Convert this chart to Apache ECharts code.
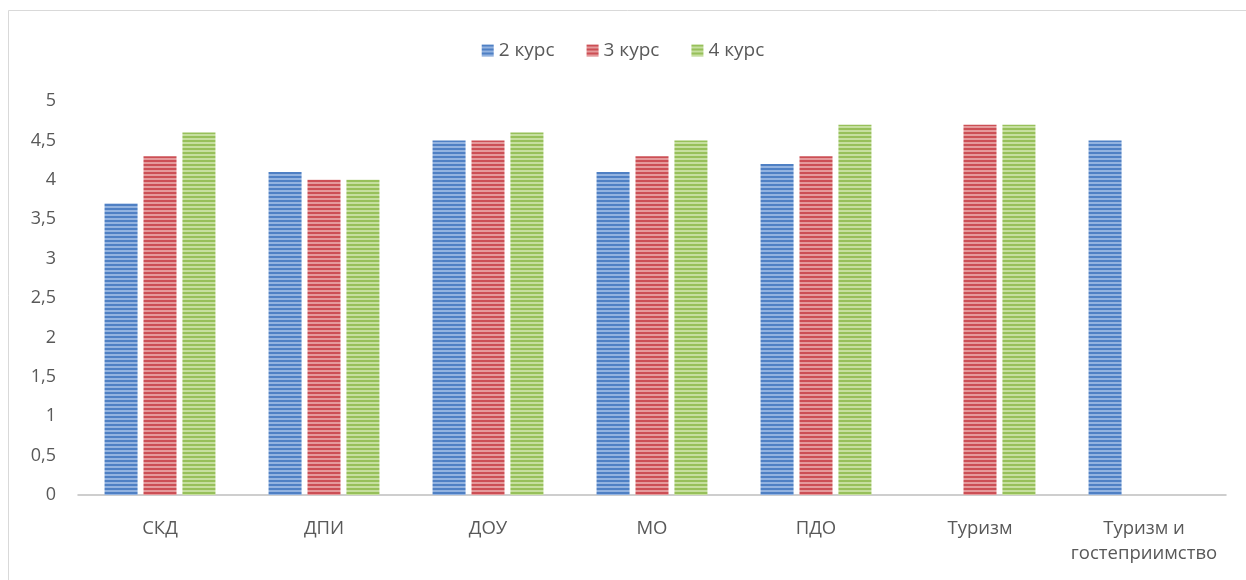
<!DOCTYPE html>
<html><head><meta charset="utf-8">
<script src="https://cdn.jsdelivr.net/npm/echarts@6/dist/echarts.min.js"></script>
<style>html,body{margin:0;padding:0;background:#fff}#c{width:1246px;height:580px}</style>
</head><body><div id="c"></div>
<script>
const categories = ['СКД','ДПИ','ДОУ','МО','ПДО','Туризм','Туризм и\nгостеприимство'];
const seriesNames = ['2 курс','3 курс','4 курс'];
const course2 = [3.7, 4.1, 4.5, 4.1, 4.2, null, 4.5];
const course3 = [4.3, 4.0, 4.5, 4.3, 4.3, 4.7, null];
const course4 = [4.6, 4.0, 4.6, 4.5, 4.7, 4.7, null];
const yTicks = [0,0.5,1,1.5,2,2.5,3,3.5,4,4.5,5];

function stripe(base, light){
  const c = document.createElement('canvas');
  c.width = 4; c.height = 4;
  const g = c.getContext('2d');
  g.fillStyle = base; g.fillRect(0,0,4,4);
  g.fillStyle = light; g.fillRect(0,2,4,2);
  return {image: c, repeat: 'repeat'};
}
const colors = [
  stripe('#4f80c4', '#93b3e0'),
  stripe('#cc4f55', '#e59a9c'),
  stripe('#97c05a', '#c6df9f')
];
const data = [course2, course3, course4];
const FF = '"Open Sans", sans-serif';
const chart = echarts.init(document.getElementById('c'), null, {renderer:'canvas'});
chart.setOption({
  animation: false,
  backgroundColor: '#fff',
  graphic: [{type:'rect', shape:{x:8.5,y:10.5,width:1260,height:600}, style:{fill:'none', stroke:'#d9d9d9', lineWidth:1}, silent:true}],
  legend: {
    top: 36, left: 'center', icon: 'rect', itemWidth: 12, itemHeight: 12, itemGap: 32,
    textStyle: {color:'#595959', fontSize:19, fontFamily:FF},
    data: seriesNames
  },
  grid: {left: 78, right: 20, top: 101, bottom: 85, containLabel: false},
  xAxis: {
    type: 'category', data: categories,
    axisLine: {lineStyle:{color:'#bfbfbf', width:1.5}},
    axisTick: {show:false},
    axisLabel: {color:'#595959', fontSize:18.5, margin:21, lineHeight:25, interval:0, fontFamily:FF}
  },
  yAxis: {
    type: 'value', min: 0, max: 5, interval: 0.5,
    axisLine: {show:false}, axisTick: {show:false},
    splitLine: {show:false},
    axisLabel: {color:'#595959', fontSize:18, margin:22, fontFamily:FF,
      formatter: v => { const t = yTicks.find(x => Math.abs(x-v)<1e-9); return String(t).replace('.', ','); }}
  },
  series: seriesNames.map((n,i) => ({
    name: n, type: 'bar', data: data[i], barWidth: 33, barGap: '18%',
    itemStyle: {color: colors[i]}
  }))
});
</script></body></html>
